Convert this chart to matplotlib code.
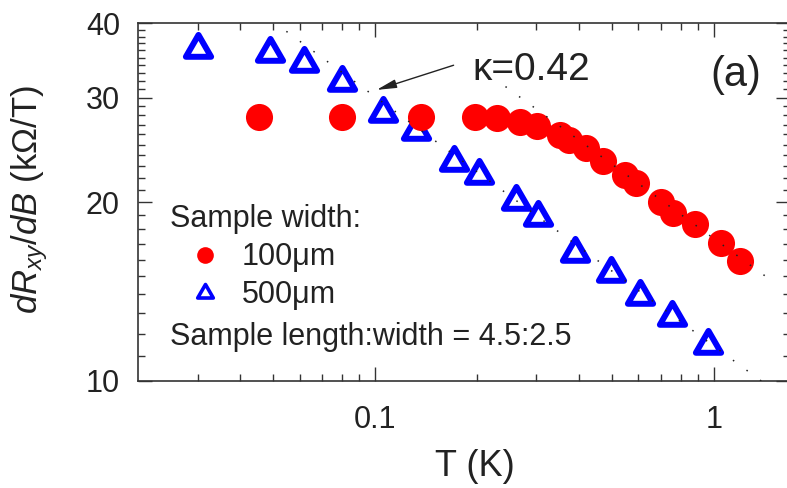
import matplotlib
matplotlib.use("Agg")
import matplotlib.pyplot as plt
from matplotlib.path import Path
from matplotlib.markers import MarkerStyle
from matplotlib.lines import Line2D
from matplotlib.ticker import FixedLocator, FixedFormatter, NullFormatter

plt.rcParams['font.family'] = ['Liberation Sans', 'DejaVu Sans']
plt.rcParams['mathtext.fontset'] = 'custom'
plt.rcParams['mathtext.rm'] = 'Liberation Sans'
plt.rcParams['mathtext.it'] = 'Liberation Sans:italic'

# 100 um wide sample (red dots)
T_100 = [0.0454, 0.080, 0.137, 0.198, 0.230, 0.269, 0.302, 0.353, 0.373,
         0.419, 0.473, 0.549, 0.588, 0.697, 0.761, 0.88, 1.05, 1.20]
R_100 = [27.8, 27.8, 27.8, 27.8, 27.7, 27.3, 26.9, 25.9, 25.4,
         24.7, 23.5, 22.2, 21.5, 20.0, 19.2, 18.4, 17.1, 15.9]

# 500 um wide sample (blue triangles)
T_500 = [0.030, 0.049, 0.062, 0.080, 0.106, 0.132, 0.171, 0.203, 0.261,
         0.303, 0.391, 0.497, 0.608, 0.755, 0.965]
R_500 = [36.2, 35.6, 34.3, 31.9, 28.3, 26.3, 23.4, 22.2, 20.1,
         18.9, 16.4, 15.2, 13.9, 12.8, 11.5]

# power law fits, kappa = 0.42 (end points of the dotted lines)
fit_100_T = [0.243, 1.52]
fit_100_R = [31.3, 14.6]
fit_500_T = [0.05, 1.45]
fit_500_R = [40.3, 9.8]

x_major = [0.1, 1]
x_labels = ["0.1", "1"]
x_minor = [0.03, 0.04, 0.05, 0.06, 0.07, 0.08, 0.09,
           0.2, 0.3, 0.4, 0.5, 0.6, 0.7, 0.8, 0.9]
y_major = [10, 20, 30, 40]
y_labels = ["10", "20", "30", "40"]
y_minor = [v for v in range(11, 40) if v not in (20, 30)]

txt = '#222222'

# equilateral triangle marker, open
tri = Path([(0, 1), (-0.866, -0.5), (0.866, -0.5), (0, 1)],
           [Path.MOVETO, Path.LINETO, Path.LINETO, Path.CLOSEPOLY])
tri_m = MarkerStyle(tri, joinstyle='round')

fig = plt.figure(figsize=(7.87, 4.88), dpi=100)
ax = fig.add_axes([138/787, 107/488, 652/787, 357.7/488])

ax.plot(T_500, R_500, ls='none', marker=tri_m, ms=21, mfc='none',
        mec='#0000ff', mew=4.3, zorder=2)
ax.plot(T_100, R_100, ls='none', marker='o', ms=19.5, color='#ff0000',
        mew=0, zorder=3)
ax.plot(fit_100_T, fit_100_R, color='#222222', lw=1.1, ls=(0, (1, 10)), zorder=4)
ax.plot(fit_500_T, fit_500_R, color='#222222', lw=1.1, ls=(0, (1, 10)), zorder=4)

ax.set_xscale('log')
ax.set_yscale('log')
ax.set_xlim(0.02, 1.68)
ax.set_ylim(10, 40)

ax.xaxis.set_major_locator(FixedLocator(x_major))
ax.xaxis.set_major_formatter(FixedFormatter(x_labels))
ax.xaxis.set_minor_locator(FixedLocator(x_minor))
ax.xaxis.set_minor_formatter(NullFormatter())
ax.yaxis.set_major_locator(FixedLocator(y_major))
ax.yaxis.set_major_formatter(FixedFormatter(y_labels))
ax.yaxis.set_minor_locator(FixedLocator(y_minor))
ax.yaxis.set_minor_formatter(NullFormatter())

for s in ax.spines.values():
    s.set_linewidth(1.2)
    s.set_color('#333333')
ax.tick_params(which='both', direction='in', top=True, right=True,
               color='#333333', labelcolor=txt, labelsize=22, width=1.0)
ax.tick_params(which='major', length=10)
ax.tick_params(which='minor', length=5)
ax.tick_params(axis='x', pad=17.5)
ax.tick_params(axis='y', pad=13)

ax.set_xlabel("T (K)", fontsize=26, color=txt)
ax.xaxis.set_label_coords(0.517, -0.190)
ax.set_ylabel(r"$dR_{xy}/dB$ (kΩ/T)", fontsize=25, color=txt)
ax.yaxis.set_label_coords(-0.135, 0.506)

# legend
h1 = Line2D([], [], ls='none', marker='o', ms=12, color='#ff0000', mew=0)
h2 = Line2D([], [], ls='none', marker=tri_m, ms=13, mfc='none',
            mec='#0000ff', mew=2.6)
leg = ax.legend([h1, h2], ["100μm", "500μm"], title="Sample width:",
                loc='upper left', bbox_to_anchor=(170/787, 1 - 204/488),
                bbox_transform=fig.transFigure, frameon=False,
                fontsize=22, title_fontsize=22, borderpad=0, borderaxespad=0,
                handlelength=2.3, handletextpad=0.05, labelspacing=0.27,
                alignment='left')
for t in leg.get_texts():
    t.set_color(txt)
leg.get_title().set_color(txt)
fig.text(170/787, 1 - 345/488, "Sample length:width = 4.5:2.5",
         fontsize=22, color=txt, va='baseline', ha='left')

# kappa annotation
ax.annotate("", xy=(0.1012, 30.9), xytext=(0.1708, 34.0),
            arrowprops=dict(arrowstyle='-|>,head_length=0.6,head_width=0.13',
                            color='#222222', lw=1.0, mutation_scale=20,
                            shrinkA=0, shrinkB=0))
ax.text(0.1942, 32.1, "κ=0.42", fontsize=28, color=txt,
        va='baseline', ha='left')
ax.text(0.9555, 0.8247, "(a)", transform=ax.transAxes, fontsize=30,
        color=txt, ha='right', va='baseline')

fig.savefig("out.png", dpi=100)
